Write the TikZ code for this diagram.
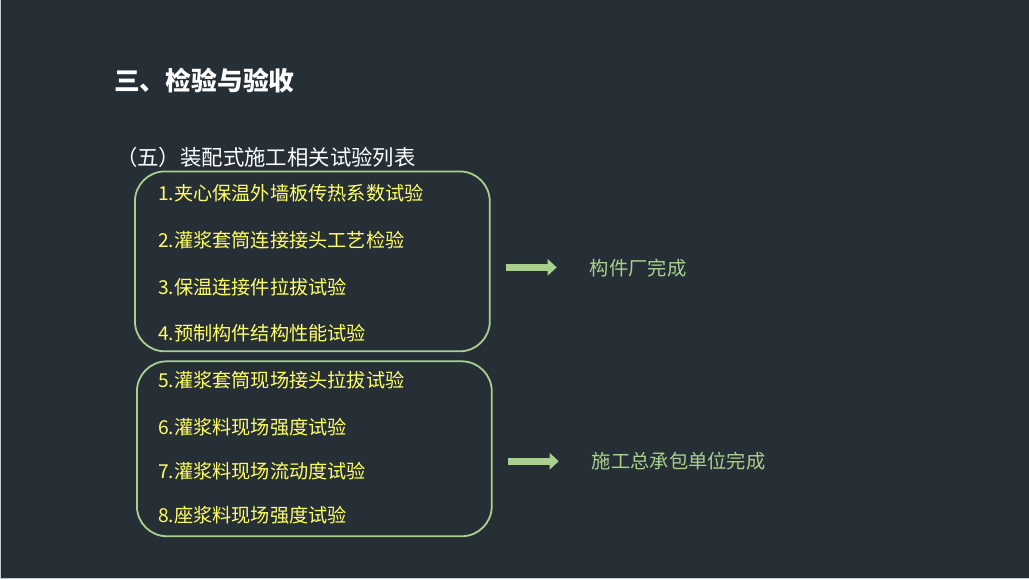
\documentclass[tikz,border=0pt]{standalone}
\usepackage{fontspec}
\setmainfont{Noto Sans CJK SC}
\usetikzlibrary{arrows.meta}
\definecolor{bg}{HTML}{262F36}
\definecolor{lgreen}{HTML}{A9D18E}
\definecolor{yel}{HTML}{FFFF66}
\definecolor{frame}{HTML}{C8CDD0}
\tikzset{
  item/.style={anchor=west, text=yel, font=\fontsize{19.2}{22}\selectfont, inner sep=0pt},
  group/.style={draw=lgreen, line width=1.8pt, rounded corners=30pt},
  result/.style={anchor=west, text=lgreen, font=\fontsize{19.3}{22}\selectfont, inner sep=0pt},
  bigarrow/.style={draw=lgreen, line width=7pt, -{Triangle[length=9pt,width=16pt]}},
}
\begin{document}
\begin{tikzpicture}[x=1pt,y=-1pt]
\fill[bg] (0,0) rectangle (1029,579);
\draw[frame, line width=1pt] (0.5,0) -- (0.5,578.5) -- (1029,578.5);
\useasboundingbox (0,0) rectangle (1029,579);

\node[anchor=west, text=white, font=\fontsize{25.8}{28}\bfseries\selectfont, inner sep=0pt] (title) at (114,80) {三、检验与验收};
\node[anchor=west, text=white, font=\fontsize{21.4}{24}\selectfont, inner sep=0pt] (sub) at (116,157) {（五）装配式施工相关试验列表};

\draw[group] (135,171) rectangle (490,351);
\node (box1) at (312.5,261) {};
\draw[group] (137,361) rectangle (492,536);
\node (box2) at (314.5,448.5) {};

\node[item] (i1) at (158,193) {1.夹心保温外墙板传热系数试验};
\node[item] (i2) at (158,240) {2.灌浆套筒连接接头工艺检验};
\node[item] (i3) at (158,287) {3.保温连接件拉拔试验};
\node[item] (i4) at (158,333) {4.预制构件结构性能试验};
\node[item] (i5) at (158,380) {5.灌浆套筒现场接头拉拔试验};
\node[item] (i6) at (158,427) {6.灌浆料现场强度试验};
\node[item] (i7) at (158,471) {7.灌浆料现场流动度试验};
\node[item] (i8) at (158,515) {8.座浆料现场强度试验};

\node[result] (r1) at (590,268) {构件厂完成};
\node[result] (r2) at (592,461) {施工总承包单位完成};

\coordinate (a1s) at (506,267);
\coordinate (a1e) at (557,267);
\coordinate (a2s) at (508,461);
\coordinate (a2e) at (559,461);
\draw[bigarrow] (a1s) -- (a1e);
\draw[bigarrow] (a2s) -- (a2e);
\end{tikzpicture}
\end{document}
